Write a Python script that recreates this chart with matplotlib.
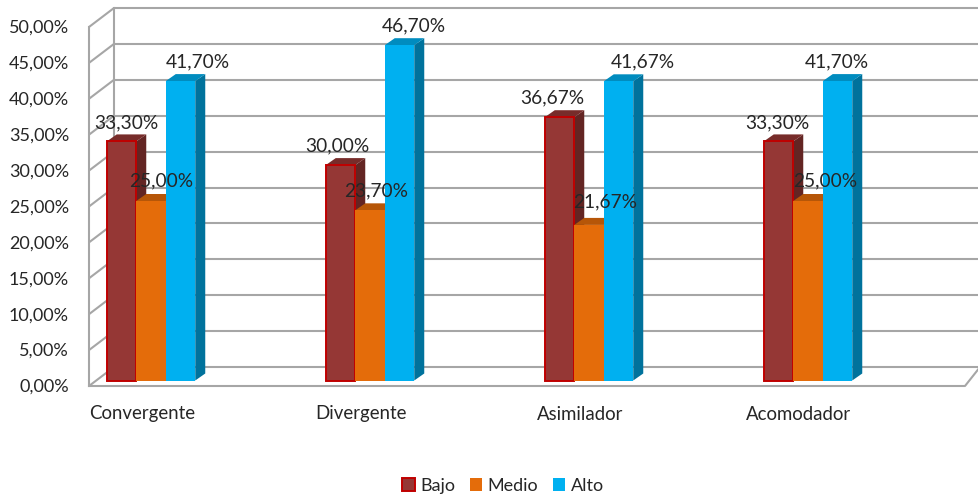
import matplotlib
matplotlib.use("Agg")
import matplotlib.pyplot as plt
from matplotlib.patches import Polygon, Patch

plt.rcParams['font.family'] = ['Lato', 'DejaVu Sans']

categories = ["Convergente", "Divergente", "Asimilador", "Acomodador"]
series_names = ["Bajo", "Medio", "Alto"]
bajo = [33.30, 30.00, 36.67, 33.30]
medio = [25.00, 23.70, 21.67, 25.00]
alto = [41.70, 46.70, 41.67, 41.70]
yticks = [0, 5, 10, 15, 20, 25, 30, 35, 40, 45, 50]

W, H = 979, 495
PX_X = 219.0          # pixels per category
PX_Y = 7.18           # pixels per percent
X0 = 151.0            # pixel x of first category (bar group centre)
Y0 = 380.5            # pixel y of value 0 at the bars' base

fig = plt.figure(figsize=(W / 100, H / 100), dpi=100)
ax = fig.add_axes([0, 0, 1, 1])
ax.set_xlim(-X0 / PX_X, (W - X0) / PX_X)
ax.set_ylim((Y0 - H) / PX_Y, Y0 / PX_Y)
ax.axis("off")

def px(dx):
    return dx / PX_X

def py(dy):
    return dy / PX_Y

# walls
grey = "#A6A6A6"
lw = 1.5
front_off = py(-5.5)      # front of the floor relative to bars' base
back_off = py(13.5)       # back wall relative to bars' base
xl_front = px(89 - X0)
xl_back = px(114 - X0)
xr_front = px(965 - X0)
xr_end = px(W + 5 - X0)
for t in yticks:
    ax.plot([xl_front, xl_back], [t + front_off, t + back_off], color=grey, lw=lw, zorder=1, solid_capstyle="butt")
    ax.plot([xl_back, xr_end], [t + back_off, t + back_off], color=grey, lw=lw, zorder=1, solid_capstyle="butt")
    ax.text(px(69 - X0), t + front_off + py(-1), f"{t:.2f}%".replace(".", ","), ha="right", va="center",
            fontsize=13, color="#262626")
ax.plot([xl_front, xl_front], [0 + front_off, 50 + front_off], color=grey, lw=lw, zorder=1)
ax.plot([xl_back, xl_back], [0 + back_off, 50 + back_off], color=grey, lw=lw, zorder=1)
ax.plot([xl_front, xr_front, xr_end], [front_off, front_off, front_off + py(24)], color=grey, lw=lw, zorder=1)

# bars
styles = [
    dict(front="#953735", edge="#C00000", top="#772C2A", side="#632523", lw=1.4),
    dict(front="#E46C0A", edge="#E46C0A", top="#B65608", side="#984807", lw=0),
    dict(front="#00B0F0", edge="#00B0F0", top="#008CBF", side="#00729C", lw=0),
]
bar_w = px(29.5)
dx, dy = px(10), py(7)
all_series = [bajo, medio, alto]
# label offsets in pixels from each bar's top-centre
label_dx = [[5, 10, 17], [-3, 6, 14], [-7, 16, 24], [-1, 17, -1]]
label_dy = [[19, 20, 19], [19, 19, 19], [19, 23, 19], [19, 20, 19]]

z = 3
for i in range(len(categories)):
    for s, vals in enumerate(all_series):
        st = styles[s]
        v = vals[i]
        x = i + (s - 1) * bar_w
        l, r = x - bar_w / 2, x + bar_w / 2
        ax.add_patch(Polygon([(r, 0), (r + dx, dy), (r + dx, v + dy), (r, v)], fc=st["side"], ec="none", zorder=z))
        ax.add_patch(Polygon([(l, v), (l + dx, v + dy), (r + dx, v + dy), (r, v)], fc=st["top"], ec="none", zorder=z))
        ax.bar(x, v, width=bar_w, color=st["front"], edgecolor=st["edge"], linewidth=st["lw"], zorder=z + 0.5)
        z += 1

for i in range(len(categories)):
    for s, vals in enumerate(all_series):
        v = vals[i]
        x = i + (s - 1) * bar_w
        ax.annotate(f"{v:.2f}%".replace(".", ","), (x, v), xytext=(label_dx[i][s], label_dy[i][s]),
                    textcoords="offset pixels", ha="center", va="center", fontsize=13.8,
                    color="#262626", zorder=100)
    ax.text(i + px(-9), py(Y0 - 414), categories[i], ha="center", va="center", fontsize=13.4, color="#262626")

handles = [Patch(facecolor=st["front"], edgecolor=st["edge"], linewidth=st["lw"], label=n)
           for st, n in zip(styles, series_names)]
ax.legend(handles=handles, ncol=3, loc="center", bbox_to_anchor=(503 / W, 1 - 486 / H), frameon=False,
          fontsize=13.0, handlelength=0.7, handleheight=0.7, handletextpad=0.3, columnspacing=0.8,
          labelcolor="#262626", borderpad=0)

fig.savefig("out.png", dpi=100)
